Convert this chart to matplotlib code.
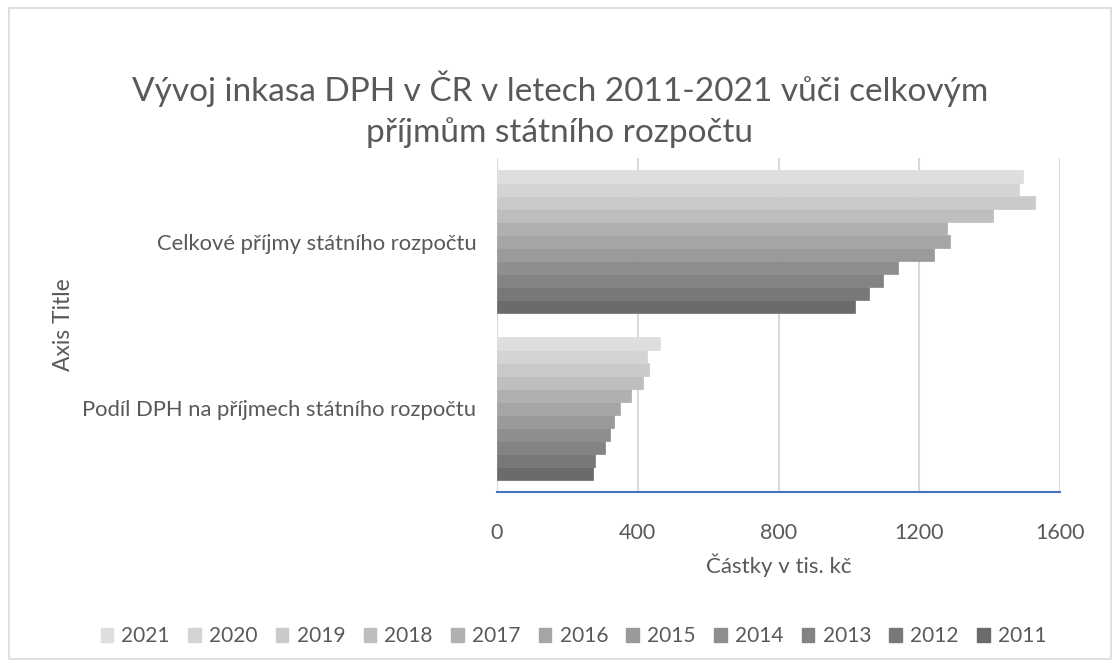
import matplotlib
matplotlib.use("Agg")
import matplotlib.pyplot as plt
from matplotlib.patches import Rectangle, Patch
import numpy as np

plt.rcParams['font.family'] = ['Lato', 'DejaVu Sans']

categories = ["Podíl DPH na příjmech státního rozpočtu", "Celkové příjmy státního rozpočtu"]
years = ["2011", "2012", "2013", "2014", "2015", "2016", "2017", "2018", "2019", "2020", "2021"]
# values per year: [Podíl DPH, Celkové příjmy]
podil_dph = [274, 278, 307, 322, 332, 348, 381, 414, 431, 425, 463]
celkove = [1018, 1056, 1096, 1139, 1241, 1286, 1279, 1410, 1530, 1483, 1494]
colors = ["#6b6b6b", "#787878", "#838383", "#8e8e8e", "#9a9a9a", "#a5a5a5",
          "#b0b0b0", "#bebebe", "#cacaca", "#d4d4d4", "#dedede"]
xticks = [0, 400, 800, 1200, 1600]

txt = "#595959"
fig = plt.figure(figsize=(11.2, 6.67), dpi=100)
fig.patches.append(Rectangle((0.008, 0.012), 0.984, 0.976, transform=fig.transFigure,
                             fill=False, edgecolor="#d9d9d9", linewidth=1.2))
ax = fig.add_axes([0.4438, 0.2624, 0.5027, 0.5007])

n = len(years)
group = 0.86
h = group / n
y = np.arange(len(categories))
for i, yr in enumerate(years):
    offs = -group / 2 + h * (i + 0.5)
    ax.barh(y + offs, [podil_dph[i], celkove[i]], height=h, color=colors[i],
            edgecolor=colors[i], linewidth=0.5, zorder=3, label=yr)

ax.set_xlim(0, 1600)
ax.set_ylim(-0.5, 1.5)
ax.set_xticks(xticks)
ax.set_xticklabels([str(v) for v in xticks], fontsize=15.5, color=txt)
ax.set_yticks(y)
ax.set_yticklabels(categories, fontsize=15.8, color=txt)
ax.tick_params(length=0, pad=15, axis='y')
ax.tick_params(length=0, pad=22, axis='x')
ax.grid(axis='x', color="#d9d9d9", linewidth=1.5, zorder=0)
for s in ["top", "right", "left"]:
    ax.spines[s].set_visible(False)
ax.spines["bottom"].set_color("#4472c4")
ax.spines["bottom"].set_linewidth(1.5)
ax.set_xlabel("Částky v tis. kč", fontsize=16, color=txt, labelpad=8)

fig.text(0.057, 0.513, "Axis Title", rotation=90, fontsize=16.5, color=txt,
         ha='center', va='center')
fig.text(0.5, 0.836, "Vývoj inkasa DPH v ČR v letech 2011-2021 vůči celkovým\npříjmům státního rozpočtu",
         ha='center', va='center', fontsize=24, color=txt, linespacing=1.4)

handles = [Patch(facecolor=colors[i], edgecolor=colors[i]) for i in range(n)][::-1]
labels = years[::-1]
fig.legend(handles, labels, loc='center', bbox_to_anchor=(0.512, 0.046), ncol=n,
           frameon=False, fontsize=15, labelcolor=txt, handlelength=0.6, handleheight=0.7,
           handletextpad=0.4, columnspacing=0.88)

fig.savefig("out.png", dpi=100)
